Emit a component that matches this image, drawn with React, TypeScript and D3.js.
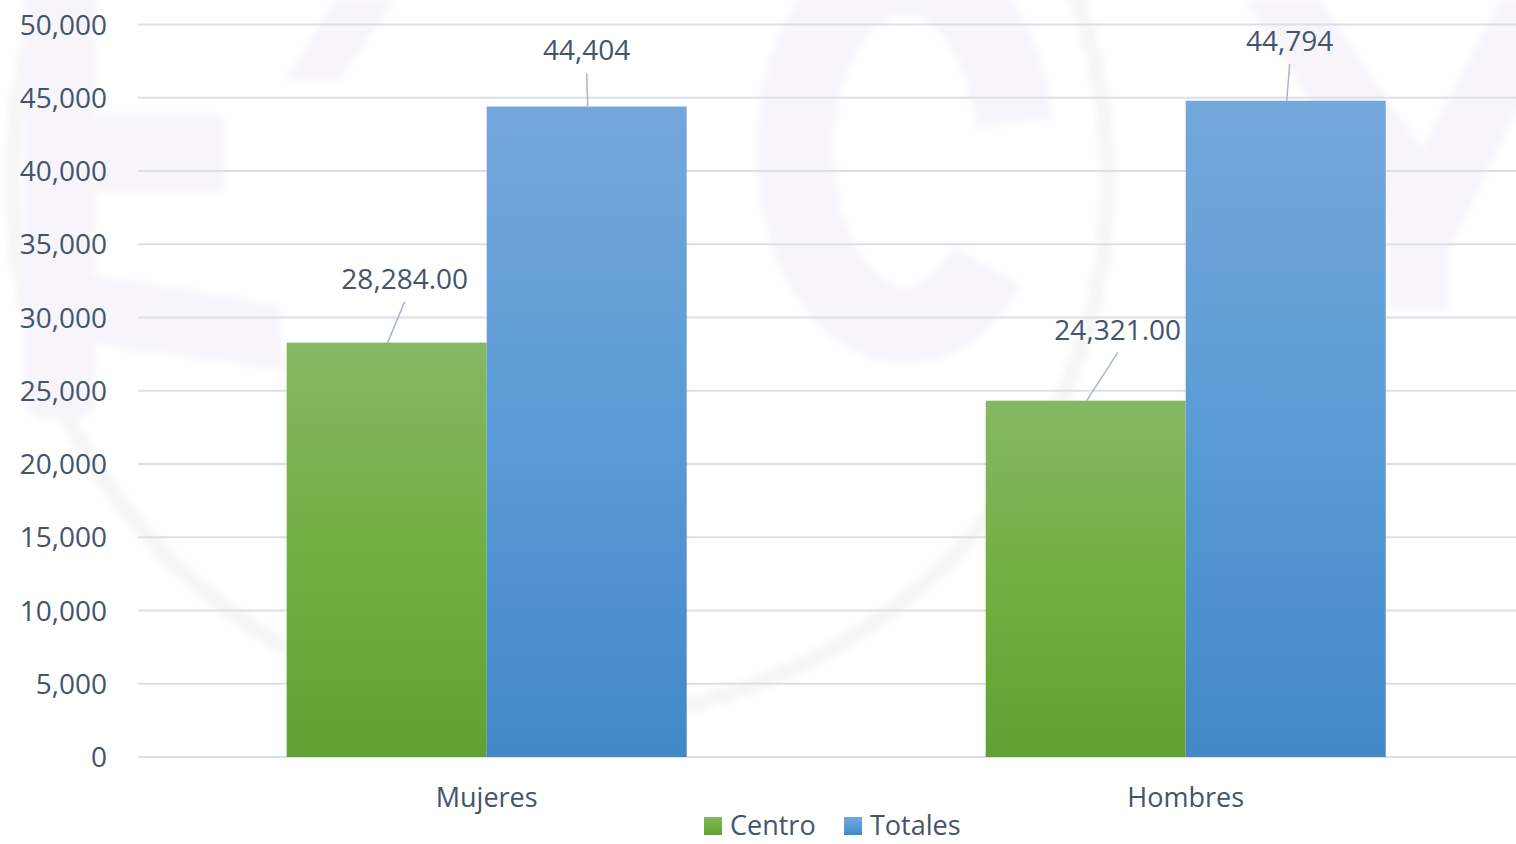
import React from "react";
import * as d3 from "d3";

// ---- data ----
const categories = ["Mujeres", "Hombres"];
const seriesNames = ["Centro", "Totales"];
const centroValues = [28284, 24321];
const totalesValues = [44404, 44794];
const yTickValues = [0, 5000, 10000, 15000, 20000, 25000, 30000, 35000, 40000, 45000, 50000];

// ---- layout (not data) ----
const W = 1516;
const H = 844;
const FONT = "'Open Sans', 'DejaVu Sans', sans-serif";
const TEXT = "#44546A";
// label offsets relative to bar top-centre: [dx, baselineDy]
const labelOffsets: Record<string, [number, number][]> = {
  Centro: [[18, -54], [32, -61]],
  Totales: [[0, -46], [4, -50]],
};
const gradients: Record<string, [string, string, string]> = {
  Centro: ["#85B863", "#71AF42", "#61A032"],
  Totales: ["#74A7DB", "#5B9BD6", "#4288C7"],
};

export default function App() {
  const y = d3.scaleLinear().domain([0, 50000]).range([757, 24.5]);
  const p = 299 / 699;
  const x0 = d3
    .scaleBand<string>()
    .domain(categories)
    .range([137.2, 1535.2])
    .paddingInner(p)
    .paddingOuter(p / 2);
  const x1 = d3.scaleBand<string>().domain(seriesNames).range([0, x0.bandwidth()]);
  const valuesBySeries: Record<string, number[]> = { Centro: centroValues, Totales: totalesValues };
  const fmt: Record<string, (v: number) => string> = {
    Centro: d3.format(",.2f"),
    Totales: d3.format(",.0f"),
  };

  const lav = "#F7F5FB";

  return (
    <svg
      width={W}
      height={H}
      style={{ position: "absolute", left: 0, top: 0, background: "#FFFFFF" }}
      fontFamily={FONT}
    >
      <defs>
        {seriesNames.map((s) => (
          <linearGradient key={s} id={"g-" + s} x1="0" y1="0" x2="0" y2="1">
            <stop offset="0" stopColor={gradients[s][0]} />
            <stop offset="0.5" stopColor={gradients[s][1]} />
            <stop offset="1" stopColor={gradients[s][2]} />
          </linearGradient>
        ))}
        <filter id="soft" x="-10%" y="-10%" width="120%" height="120%">
          <feGaussianBlur stdDeviation="3" />
        </filter>
      </defs>

      {/* faint watermark */}
      <g filter="url(#soft)">
        <ellipse cx={560} cy={180} rx={548} ry={540} fill="none" stroke="#F6F6F6" strokeWidth={16} />
        <ellipse
          cx={905}
          cy={150}
          rx={110}
          ry={175}
          fill="none"
          stroke={lav}
          strokeWidth={78}
          strokeDasharray="760 400"
          strokeDashoffset={-120}
        />
        <path d="M1245,0 L1320,0 L1450,190 L1400,240 Z" fill={lav} />
        <path d="M1500,0 L1570,0 L1450,250 L1395,200 Z" fill={lav} />
        <rect x={1388} y={180} width={62} height={130} fill={lav} />
        <rect x={25} y={-20} width={70} height={440} rx={20} fill={lav} />
        <rect x={80} y={115} width={145} height={77} rx={10} fill={lav} />
        <path d="M95,275 L280,305 L285,370 L95,345 Z" fill={lav} />
        <path d="M285,80 L340,80 L395,0 L335,0 Z" fill={lav} />
      </g>

      {/* gridlines */}
      {yTickValues.map((t) => (
        <line key={t} x1={138} x2={W} y1={y(t)} y2={y(t)} stroke="#DCE0E6" strokeWidth={2} />
      ))}
      {/* y tick labels */}
      {yTickValues.map((t) => (
        <text key={"t" + t} x={107} y={y(t) + 10} textAnchor="end" fontSize={28} fill={TEXT}>
          {d3.format(",")(t)}
        </text>
      ))}

      {/* bars */}
      {categories.map((c, ci) => (
        <g key={c} transform={`translate(${x0(c)},0)`}>
          {seriesNames.map((s) => {
            const v = valuesBySeries[s][ci];
            return (
              <rect
                key={s}
                x={x1(s)}
                y={y(v)}
                width={x1.bandwidth()}
                height={y(0) - y(v)}
                fill={`url(#g-${s})`}
              />
            );
          })}
        </g>
      ))}

      {/* data labels with leader lines */}
      {categories.map((c, ci) =>
        seriesNames.map((s) => {
          const v = valuesBySeries[s][ci];
          const cx = (x0(c) as number) + (x1(s) as number) + x1.bandwidth() / 2;
          const top = y(v);
          const [dx, dy] = labelOffsets[s][ci];
          const lx = cx + dx;
          const ly = top + dy;
          return (
            <g key={c + s}>
              <line x1={cx + 1} y1={top} x2={lx} y2={ly + 13} stroke="#A9B6C8" strokeWidth={1.5} />
              <text x={lx} y={ly} textAnchor="middle" fontSize={28} fill={TEXT}>
                {fmt[s](v)}
              </text>
            </g>
          );
        })
      )}

      {/* category labels */}
      {categories.map((c) => (
        <text
          key={"c" + c}
          x={(x0(c) as number) + x0.bandwidth() / 2}
          y={807}
          textAnchor="middle"
          fontSize={27}
          fill={TEXT}
        >
          {c}
        </text>
      ))}

      {/* legend */}
      {seriesNames.map((s, i) => {
        const lx = [704, 844][i];
        return (
          <g key={"l" + s}>
            <rect x={lx} y={817} width={18} height={18} fill={`url(#g-${s})`} />
            <text x={lx + 26} y={835} fontSize={27} fill={TEXT}>
              {s}
            </text>
          </g>
        );
      })}
    </svg>
  );
}
